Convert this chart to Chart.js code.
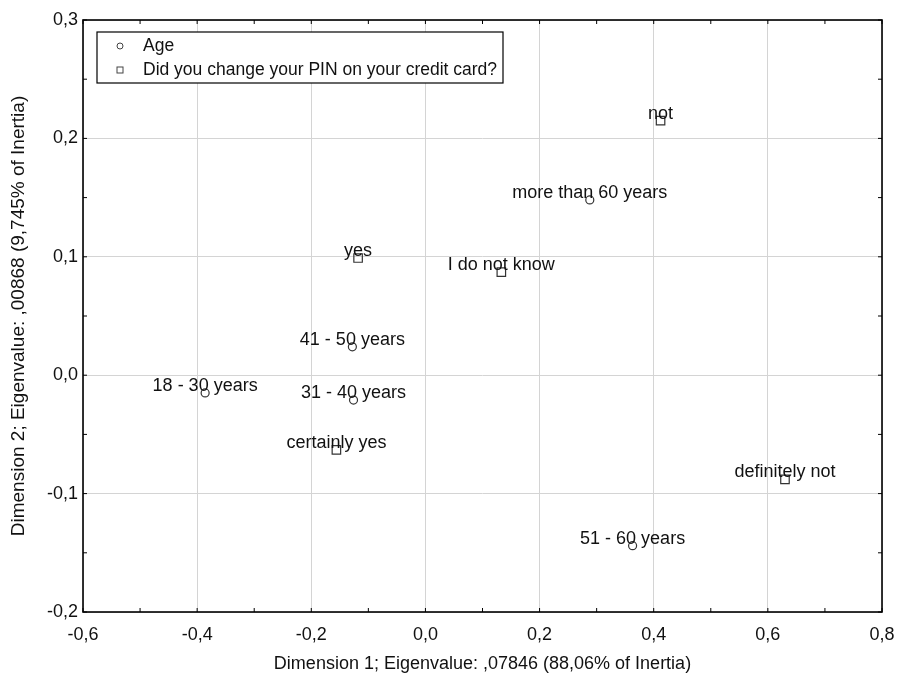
<!DOCTYPE html>
<html>
<head>
<meta charset="utf-8">
<script src="https://cdn.jsdelivr.net/npm/chart.js@4/dist/chart.umd.min.js"></script>
<style>
  html, body { margin:0; padding:0; background:#fff; }
  #wrap { width:901px; height:677px; }
</style>
</head>
<body>
<div id="wrap"><canvas id="chart" width="901" height="677"></canvas></div>
<script>
// Data
const ageLabels = ['18 - 30 years', '31 - 40 years', '41 - 50 years', '51 - 60 years', 'more than 60 years'];
const ageX = [-0.386, -0.126, -0.128, 0.363, 0.288];
const ageY = [-0.015, -0.021, 0.024, -0.144, 0.148];

const pinLabels = ['certainly yes', 'yes', 'I do not know', 'not', 'definitely not'];
const pinX = [-0.156, -0.118, 0.133, 0.412, 0.630];
const pinY = [-0.063, 0.099, 0.087, 0.215, -0.088];

const seriesNames = ['Age', 'Did you change your PIN on your credit card?'];
const xTitle = 'Dimension 1; Eigenvalue: ,07846 (88,06% of Inertia)';
const yTitle = 'Dimension 2; Eigenvalue: ,00868 (9,745% of Inertia)';

const FONT = 'Liberation Sans, Arial, sans-serif';
const comma = v => v.toFixed(1).replace('.', ',');

function toPoints(xs, ys, labels) {
    return xs.map((x, i) => ({ x: x, y: ys[i], label: labels[i] }));
}

// labels above points, minor ticks, frame and legend
const extrasPlugin = {
    id: 'extras',
    afterDatasetsDraw(chart) {
        const ctx = chart.ctx;
        const area = chart.chartArea;
        const xs = chart.scales.x, ys = chart.scales.y;
        ctx.save();

        // point labels
        ctx.font = '18px ' + FONT;
        ctx.fillStyle = '#111';
        ctx.textAlign = 'center';
        ctx.textBaseline = 'alphabetic';
        chart.data.datasets.forEach(ds => {
            ds.data.forEach(p => {
                ctx.fillText(p.label, xs.getPixelForValue(p.x), ys.getPixelForValue(p.y) - 2);
            });
        });

        // frame
        ctx.strokeStyle = '#000';
        ctx.lineWidth = 1.6;
        ctx.strokeRect(area.left, area.top, area.right - area.left, area.bottom - area.top);

        // inward ticks
        ctx.lineWidth = 1;
        for (let v = -0.6; v <= 0.8001; v += 0.1) {
            const px = xs.getPixelForValue(v);
            ctx.beginPath();
            ctx.moveTo(px, area.bottom); ctx.lineTo(px, area.bottom - 4);
            ctx.moveTo(px, area.top); ctx.lineTo(px, area.top + 4);
            ctx.stroke();
        }
        for (let v = -0.2; v <= 0.3001; v += 0.05) {
            const py = ys.getPixelForValue(v);
            ctx.beginPath();
            ctx.moveTo(area.left, py); ctx.lineTo(area.left + 4, py);
            ctx.moveTo(area.right, py); ctx.lineTo(area.right - 4, py);
            ctx.stroke();
        }

        // legend box
        const lx = area.left + 14, ly = area.top + 12, lw = 406, lh = 51;
        ctx.fillStyle = '#fff';
        ctx.fillRect(lx, ly, lw, lh);
        ctx.strokeStyle = '#000';
        ctx.lineWidth = 1.2;
        ctx.strokeRect(lx, ly, lw, lh);
        ctx.font = '17.5px ' + FONT;
        ctx.textAlign = 'left';
        ctx.textBaseline = 'middle';
        ctx.fillStyle = '#111';
        ctx.strokeStyle = '#444';
        ctx.lineWidth = 1;
        const row1 = ly + 14, row2 = ly + 38;
        ctx.beginPath();
        ctx.arc(lx + 23, row1, 3, 0, Math.PI * 2);
        ctx.stroke();
        ctx.strokeRect(lx + 20, row2 - 3, 6, 6);
        ctx.fillText(seriesNames[0], lx + 46, row1);
        ctx.fillText(seriesNames[1], lx + 46, row2);
        ctx.restore();
    }
};

const ctx = document.getElementById('chart').getContext('2d');
new Chart(ctx, {
    type: 'scatter',
    data: {
        datasets: [
            { label: seriesNames[0], data: toPoints(ageX, ageY, ageLabels), pointStyle: 'circle', pointRadius: 4,
              borderColor: '#333', backgroundColor: 'rgba(255,255,255,0)', borderWidth: 1.2 },
            { label: seriesNames[1], data: toPoints(pinX, pinY, pinLabels), pointStyle: 'rect', pointRadius: 6,
              borderColor: '#333', backgroundColor: 'rgba(255,255,255,0)', borderWidth: 1.2 }
        ]
    },
    options: {
        responsive: false,
        animation: false,
        layout: { padding: { top: 20, right: 19, left: 0, bottom: 0 } },
        plugins: { legend: { display: false }, tooltip: { enabled: false } },
        scales: {
            x: {
                type: 'linear', min: -0.6, max: 0.8,
                afterFit: s => { s.height = 65; s.paddingLeft = 0; s.paddingRight = 0; },
                ticks: { stepSize: 0.2, callback: v => comma(v), color: '#111', font: { size: 18, family: FONT }, padding: 12 },
                grid: { color: '#d4d4d4', tickLength: 0, drawTicks: false },
                border: { display: false },
                title: { display: true, text: xTitle, color: '#111', font: { size: 18, family: FONT }, padding: { bottom: 2 } }
            },
            y: {
                type: 'linear', min: -0.2, max: 0.3,
                afterFit: s => { s.width = 83; },
                ticks: { stepSize: 0.1, callback: v => comma(v), color: '#111', font: { size: 18, family: FONT }, padding: 5 },
                grid: { color: '#d4d4d4', tickLength: 0, drawTicks: false },
                border: { display: false },
                title: { display: true, text: yTitle, color: '#111', font: { size: 19, family: FONT }, padding: { top: 7 } }
            }
        }
    },
    plugins: [extrasPlugin]
});
</script>
</body>
</html>
